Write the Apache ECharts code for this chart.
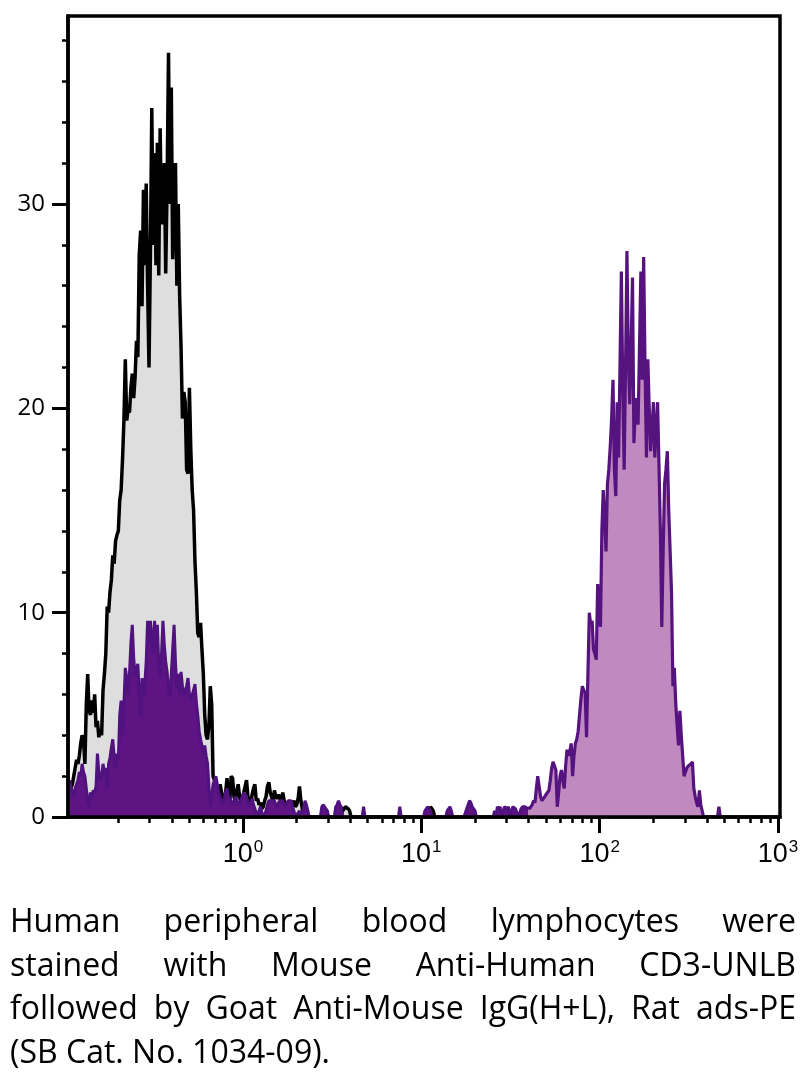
<!DOCTYPE html>
<html>
<head>
<meta charset="utf-8">
<script src="https://cdn.jsdelivr.net/npm/echarts@6/dist/echarts.min.js"></script>
<style>
  html, body { margin: 0; padding: 0; background: #fff; }
  #chart { position: absolute; left: 0; top: 0; width: 806px; height: 1077px; }
  #caption { position: absolute; left: 10px; top: 898px; width: 786px;
    font-family: "Open Sans", "Noto Sans", sans-serif; font-size: 32px; line-height: 43.5px; color: #000; }
  #caption .j { text-align: justify; text-align-last: justify; white-space: nowrap; }
  #caption .l { text-align: left; white-space: nowrap; }
</style>
</head>
<body>
<div id="chart"></div>
<div id="caption">
  <div class="j">Human peripheral blood lymphocytes were</div>
  <div class="j">stained with Mouse Anti-Human CD3-UNLB</div>
  <div class="j">followed by Goat Anti-Mouse IgG(H+L), Rat ads-PE</div>
  <div class="l">(SB Cat. No. 1034-09).</div>
</div>
<script>
// ---- histogram bins: log10 of fluorescence of the first bin and bin width (decades)
const binStart = -0.98;
const binStep = 1 / 128;

// control (black outline, gray fill) counts per bin
const controlCounts = [
  0.5, 1.0, 1.4, 1.6, 2.0, 2.4, 2.8, 2.6, 3.0, 3.6,
  4.0, 3.8, 2.6, 5.5, 7.0, 5.2, 5.0, 5.7, 5.1, 6.0,
  4.4, 4.7, 3.9, 4.3, 4.0, 6.2, 7.0, 8.0, 10.3, 10.0,
  11.0, 11.6, 12.8, 12.4, 13.5, 13.8, 14.0, 15.5, 16.0, 17.5,
  19.4, 22.4, 19.4, 19.9, 19.8, 21.0, 21.7, 20.5, 21.5, 23.3,
  22.5, 27.5, 28.7, 25.0, 30.7, 27.0, 31.0, 26.0, 22.0, 27.5,
  34.7, 28.0, 32.5, 27.0, 33.0, 26.5, 33.7, 29.0, 29.6, 32.0,
  26.6, 31.0, 37.4, 30.0, 35.7, 27.3, 29.5, 32.0, 26.0, 30.0,
  25.5, 23.0, 19.5, 20.8, 20.3, 17.0, 16.8, 21.0, 18.0, 16.0,
  15.0, 12.5, 11.0, 9.0, 8.8, 9.5, 8.2, 7.0, 5.0, 4.0,
  3.8, 4.5, 6.4, 5.5, 2.0, 1.8, 1.4, 1.2, 1.0, 1.6,
  1.6, 0.9, 0.6, 1.2, 1.9, 1.0, 0.8, 2.0, 1.9, 1.0,
  0.8, 1.3, 1.6, 1.0, 0.7, 0.9, 1.2, 1.5, 1.8, 1.0,
  0.8, 0.6, 1.1, 1.4, 1.6, 0.8, 0.9, 0.6, 0.7, 0.4,
  0.5, 0.8, 1.0, 1.5, 1.7, 1.2, 1.0, 0.7, 1.3, 1.0,
  0.9, 1.1, 1.1, 0.7, 1.2, 0.8, 0.6, 0.4, 0.6, 0.5,
  0.5, 0.6, 0.8, 0.5, 0.6, 0.9, 1.5, 0.8, 0.4, 0,
  0, 0, 0, 0, 0, 0, 0, 0, 0, 0,
  0, 0, 0, 0, 0, 0, 0, 0, 0, 0,
  0, 0, 0, 0, 0, 0, 0, 0.3, 0.4, 0.5,
  0.5, 0.4, 0.3, 0, 0, 0, 0, 0, 0, 0,
  0, 0, 0, 0, 0, 0, 0, 0, 0, 0,
  0, 0, 0, 0, 0, 0, 0, 0, 0, 0,
  0, 0, 0, 0, 0, 0, 0, 0, 0, 0,
  0, 0, 0, 0, 0, 0, 0, 0, 0, 0,
  0, 0, 0, 0, 0, 0, 0, 0, 0, 0,
  0.5, 0.4, 0.3, 0
];

// stained sample (purple) counts per bin
const stainedCounts = [
  1.6, 1.8, 1.5, 1.2, 1.0, 1.4, 1.6, 1.8, 2.2, 2.0,
  2.6, 2.2, 2.0, 1.4, 0.8, 0.5, 1.2, 1.0, 1.3, 1.2,
  1.5, 3.1, 2.2, 1.8, 2.0, 2.6, 2.2, 2.4, 1.4, 2.6,
  2.9, 3.4, 3.8, 3.0, 2.4, 3.1, 2.8, 5.0, 5.7, 4.0,
  5.5, 7.3, 6.8, 6.0, 7.0, 8.5, 9.4, 7.8, 6.9, 7.2,
  7.5, 6.0, 4.9, 6.8, 5.8, 6.5, 7.6, 9.6, 8.5, 9.6,
  8.8, 8.0, 9.6, 8.2, 9.4, 7.5, 6.8, 8.0, 9.6, 8.4,
  7.6, 7.1, 6.2, 5.9, 7.0, 8.2, 9.4, 7.6, 6.3, 7.0,
  6.0, 7.1, 6.4, 5.9, 6.2, 6.4, 6.8, 6.0, 5.7, 6.0,
  6.2, 6.5, 5.6, 5.0, 4.2, 3.8, 3.5, 3.0, 3.5, 3.0,
  2.6, 1.5, 0.5, 1.0, 1.6, 1.8, 2.0, 1.6, 1.2, 1.0,
  0.8, 0.6, 0.9, 1.2, 1.4, 1.0, 0.9, 0.8, 0.6, 0.7,
  1.0, 0.8, 0.6, 0.7, 0.8, 1.0, 1.2, 1.1, 1.0, 0.7,
  0.5, 0.7, 0.9, 0.6, 0.4, 0.2, 0, 0.3, 0.5, 0.2,
  0, 0, 0.3, 0.6, 0.8, 0.8, 0.8, 0.8, 0.8, 0.6,
  0.5, 0.7, 0.8, 0.8, 0.8, 0.6, 0.5, 0.7, 0.8, 0.8,
  0.8, 0.5, 0.3, 0, 0, 0.2, 0.3, 0, 0, 0.4,
  0.8, 0.6, 0.3, 0, 0, 0, 0, 0, 0, 0,
  0, 0, 0.5, 0.6, 0.5, 0.4, 0.3, 0, 0, 0,
  0, 0, 0.5, 0.6, 0.8, 0.6, 0.5, 0, 0, 0,
  0, 0, 0, 0, 0, 0, 0, 0, 0, 0,
  0, 0, 0.5, 0, 0, 0, 0, 0, 0, 0,
  0, 0, 0, 0, 0, 0, 0, 0, 0, 0,
  0, 0, 0, 0, 0, 0, 0, 0, 0.5, 0,
  0, 0, 0, 0, 0, 0, 0, 0, 0, 0,
  0, 0, 0, 0, 0, 0, 0.3, 0.4, 0.5, 0.4,
  0.3, 0, 0, 0, 0, 0, 0, 0, 0, 0,
  0, 0, 0.3, 0.4, 0.5, 0.3, 0, 0, 0, 0,
  0, 0, 0, 0, 0, 0, 0.4, 0.6, 0.8, 0.7,
  0.5, 0.4, 0.3, 0, 0, 0, 0, 0, 0, 0,
  0, 0, 0, 0, 0, 0, 0.3, 0, 0.5, 0.4,
  0.5, 0, 0, 0.5, 0.5, 0.4, 0.5, 0, 0, 0.5,
  0.5, 0.4, 0.4, 0, 0, 0.4, 0.5, 0.5, 0.5, 0.4,
  0.5, 0.4, 0.5, 0.6, 0.8, 0.7, 1.4, 2.0, 1.5, 1.0,
  0.8, 0.9, 1.0, 1.1, 1.2, 1.3, 1.8, 2.4, 2.7, 2.5,
  2.3, 0.5, 1.2, 2.0, 2.3, 1.8, 1.4, 2.5, 3.3, 3.0,
  3.2, 3.6, 2.0, 3.0, 3.6, 3.8, 4.2, 5.0, 5.8, 6.4,
  6.2, 6.1, 3.9, 7.0, 10.0, 9.4, 9.6, 8.2, 8.0, 7.7,
  11.4, 10.0, 9.3, 14.0, 16.0, 14.5, 13.0, 16.3, 17.0, 18.1,
  19.5, 21.4, 17.0, 15.7, 20.3, 17.6, 22.0, 26.7, 21.0, 17.0,
  22.0, 27.7, 22.5, 20.2, 23.0, 26.4, 18.3, 19.9, 20.5, 19.2,
  23.0, 26.7, 21.4, 27.4, 22.0, 17.6, 22.4, 20.0, 17.9, 19.0,
  20.3, 17.6, 19.0, 20.3, 17.2, 14.0, 9.3, 13.0, 16.3, 17.0,
  17.9, 15.0, 13.0, 11.0, 6.4, 7.3, 5.6, 4.5, 3.5, 5.2,
  4.0, 3.0, 2.0, 2.2, 2.4, 2.5, 2.5, 2.6, 2.7, 1.4,
  1.0, 0.7, 0.5, 1.3, 0.6, 0.3, 0, 0, 0, 0,
  0, 0, 0, 0, 0, 0, 0, 0.5, 0
];
// first bin of the positive (light-filled) population
const positiveFromBin = 330;

// axes
const xMinLog = -0.981, xMaxLog = 3.011;
const yMax = 39.2;
const xMajorTicks = [0, 1, 2, 3];
const xMinorMultipliers = [2, 3, 4, 5, 6, 7, 8, 9];
const xMinorDecades = [-1, 0, 1, 2];
const yMajorTicks = [0, 10, 20, 30];
const yMinorTicks = [2, 4, 6, 8, 12, 14, 16, 18, 22, 24, 26, 28, 32, 34, 36, 38];

function toPairs(arr, from, to) {
  const out = [];
  for (let i = from; i < to && i < arr.length; i++) out.push([binStart + i * binStep, arr[i]]);
  return out;
}
const xMinorTicks = [];
xMinorDecades.forEach(d => xMinorMultipliers.forEach(m => {
  const v = d + Math.log10(m);
  if (v > xMinLog && v < xMaxLog) xMinorTicks.push(v);
}));

const chart = echarts.init(document.getElementById('chart'), null, { renderer: 'canvas' });
const black = '#000';
const axisW = 3.5;
chart.setOption({
  animation: false,
  backgroundColor: '#fff',
  grid: { left: 68, right: 26, top: 16, bottom: 260, show: true, borderColor: black, borderWidth: axisW, backgroundColor: 'transparent' },
  xAxis: [
    {
      type: 'value', min: xMinLog, max: xMaxLog, position: 'bottom', z: 10,
      axisLine: { show: true, onZero: false, lineStyle: { color: black, width: axisW } },
      axisTick: { show: true, customValues: xMajorTicks, length: 16, lineStyle: { color: black, width: 3 } },
      axisLabel: {
        show: true, customValues: xMajorTicks, margin: 22,
        formatter: v => '{b|10}{s|' + Math.round(v) + '}',
        rich: {
          b: { fontSize: 27, fontFamily: 'Liberation Sans', color: black, verticalAlign: 'bottom' },
          s: { fontSize: 17, fontFamily: 'Liberation Sans', color: black, verticalAlign: 'bottom', padding: [0, 0, 12, 1] }
        }
      },
      splitLine: { show: false }
    },
    {
      type: 'value', min: xMinLog, max: xMaxLog, position: 'bottom', z: 10,
      axisLine: { show: false, onZero: false },
      axisTick: { show: true, customValues: xMinorTicks, length: 6, lineStyle: { color: black, width: 2.5 } },
      axisLabel: { show: false },
      splitLine: { show: false }
    }
  ],
  yAxis: [
    {
      type: 'value', min: 0, max: yMax, position: 'left', z: 10,
      axisLine: { show: true, onZero: false, lineStyle: { color: black, width: axisW } },
      axisTick: { show: true, customValues: yMajorTicks, length: 16, lineStyle: { color: black, width: 3 } },
      axisLabel: { show: true, customValues: yMajorTicks, margin: 23, fontSize: 24, fontFamily: 'Open Sans', color: black },
      splitLine: { show: false }
    },
    {
      type: 'value', min: 0, max: yMax, position: 'left', z: 10,
      axisLine: { show: false, onZero: false },
      axisTick: { show: true, customValues: yMinorTicks, length: 6, lineStyle: { color: black, width: 2.5 } },
      axisLabel: { show: false },
      splitLine: { show: false }
    }
  ],
  series: [
    {
      type: 'line', name: 'Control', xAxisIndex: 0, yAxisIndex: 0,
      data: toPairs(controlCounts, 0, controlCounts.length),
      showSymbol: false, smooth: false, z: 2,
      lineStyle: { color: black, width: 3.5 },
      areaStyle: { color: '#dedede', opacity: 1 }
    },
    {
      type: 'line', name: 'Stained negative', xAxisIndex: 0, yAxisIndex: 0,
      data: toPairs(stainedCounts, 0, positiveFromBin + 1),
      showSymbol: false, smooth: false, z: 3,
      lineStyle: { color: '#4f127f', width: 3 },
      areaStyle: { color: '#5e1483', opacity: 1 }
    },
    {
      type: 'line', name: 'Stained positive', xAxisIndex: 0, yAxisIndex: 0,
      data: toPairs(stainedCounts, positiveFromBin, stainedCounts.length),
      showSymbol: false, smooth: false, z: 3,
      lineStyle: { color: '#56137f', width: 3.2 },
      areaStyle: { color: '#c08ac0', opacity: 1 }
    }
  ]
});
</script>
</body>
</html>
